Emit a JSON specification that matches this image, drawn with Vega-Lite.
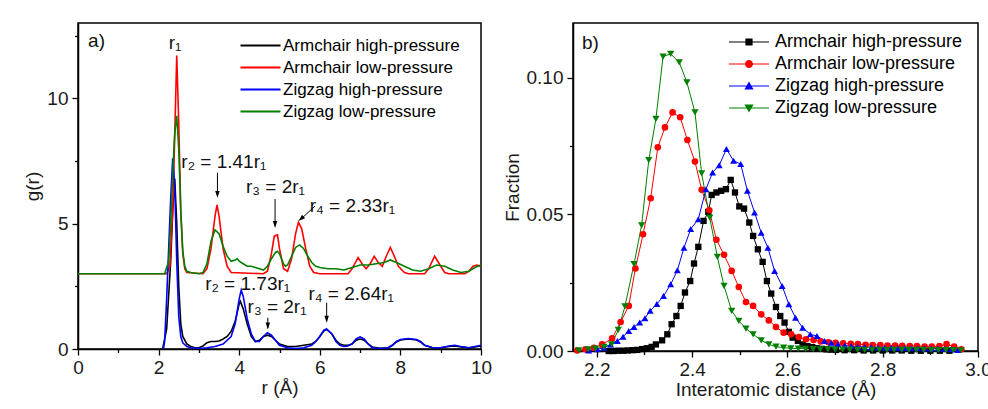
{
  "$schema": "https://vega.github.io/schema/vega-lite/v6.json",
  "usermeta": {"embedOptions": {"actions": false}},
  "background": "white",
  "padding": {"left": 23, "top": 22, "right": 0, "bottom": 0},
  "spacing": 92,
  "bounds": "flush",
  "config": {
    "font": "Liberation Sans",
    "view": {"stroke": "black", "strokeWidth": 1.5},
    "axis": {
      "domainColor": "black", "domainWidth": 1.5, "tickColor": "black", "tickWidth": 1.3,
      "labelFont": "Liberation Sans", "labelFontSize": 19, "labelColor": "#1a1a1a",
      "titleFont": "Liberation Sans", "titleFontSize": 19, "titleFontWeight": "normal", "titleColor": "#1a1a1a",
      "grid": false, "labelFlush": false, "labelOverlap": false, "labelPadding": 3
    },
    "axisX": {"titlePadding": 1},
    "axisY": {"titlePadding": 4, "labelPadding": 4},
    "legend": {"labelFont": "Liberation Sans", "labelColor": "black", "padding": 0, "titlePadding": 0, "labelLimit": 400}
  },
  "datasets": {
    "gr": [
      {"s":"Armchair high-pressure","r":2.1,"g":0},{"s":"Armchair high-pressure","r":2.2,"g":0.8},{"s":"Armchair high-pressure","r":2.3,"g":3.5},{"s":"Armchair high-pressure","r":2.35,"g":5.5},{"s":"Armchair high-pressure","r":2.4,"g":6.8},{"s":"Armchair high-pressure","r":2.45,"g":5.0},{"s":"Armchair high-pressure","r":2.5,"g":2.5},{"s":"Armchair high-pressure","r":2.55,"g":1.0},{"s":"Armchair high-pressure","r":2.6,"g":0.5},{"s":"Armchair high-pressure","r":2.7,"g":0.2},{"s":"Armchair high-pressure","r":2.8,"g":0.1},{"s":"Armchair high-pressure","r":2.9,"g":0.05},{"s":"Armchair high-pressure","r":3.0,"g":0.05},{"s":"Armchair high-pressure","r":3.1,"g":0.12},{"s":"Armchair high-pressure","r":3.2,"g":0.25},{"s":"Armchair high-pressure","r":3.3,"g":0.3},{"s":"Armchair high-pressure","r":3.4,"g":0.3},{"s":"Armchair high-pressure","r":3.5,"g":0.32},{"s":"Armchair high-pressure","r":3.6,"g":0.4},{"s":"Armchair high-pressure","r":3.7,"g":0.5},{"s":"Armchair high-pressure","r":3.8,"g":0.7},{"s":"Armchair high-pressure","r":3.9,"g":1.1},{"s":"Armchair high-pressure","r":4.0,"g":1.8},{"s":"Armchair high-pressure","r":4.03,"g":1.9},{"s":"Armchair high-pressure","r":4.1,"g":1.6},{"s":"Armchair high-pressure","r":4.2,"g":1.0},{"s":"Armchair high-pressure","r":4.3,"g":0.5},{"s":"Armchair high-pressure","r":4.4,"g":0.3},{"s":"Armchair high-pressure","r":4.5,"g":0.35},{"s":"Armchair high-pressure","r":4.6,"g":0.5},{"s":"Armchair high-pressure","r":4.7,"g":0.55},{"s":"Armchair high-pressure","r":4.8,"g":0.5},{"s":"Armchair high-pressure","r":4.9,"g":0.35},{"s":"Armchair high-pressure","r":5.0,"g":0.2},{"s":"Armchair high-pressure","r":5.2,"g":0.1},{"s":"Armchair high-pressure","r":5.4,"g":0.1},{"s":"Armchair high-pressure","r":5.6,"g":0.15},{"s":"Armchair high-pressure","r":5.8,"g":0.2},{"s":"Armchair high-pressure","r":5.9,"g":0.3},{"s":"Armchair high-pressure","r":6.0,"g":0.5},{"s":"Armchair high-pressure","r":6.1,"g":0.72},{"s":"Armchair high-pressure","r":6.17,"g":0.78},{"s":"Armchair high-pressure","r":6.3,"g":0.6},{"s":"Armchair high-pressure","r":6.4,"g":0.35},{"s":"Armchair high-pressure","r":6.5,"g":0.2},{"s":"Armchair high-pressure","r":6.6,"g":0.15},{"s":"Armchair high-pressure","r":6.7,"g":0.15},{"s":"Armchair high-pressure","r":6.8,"g":0.2},{"s":"Armchair high-pressure","r":6.9,"g":0.35},{"s":"Armchair high-pressure","r":7.0,"g":0.4},{"s":"Armchair high-pressure","r":7.1,"g":0.35},{"s":"Armchair high-pressure","r":7.2,"g":0.2},{"s":"Armchair high-pressure","r":7.3,"g":0.08},{"s":"Armchair high-pressure","r":7.5,"g":0.03},{"s":"Armchair high-pressure","r":7.7,"g":0.05},{"s":"Armchair high-pressure","r":7.8,"g":0.15},{"s":"Armchair high-pressure","r":7.9,"g":0.28},{"s":"Armchair high-pressure","r":8.0,"g":0.36},{"s":"Armchair high-pressure","r":8.2,"g":0.4},{"s":"Armchair high-pressure","r":8.4,"g":0.36},{"s":"Armchair high-pressure","r":8.5,"g":0.28},{"s":"Armchair high-pressure","r":8.6,"g":0.15},{"s":"Armchair high-pressure","r":8.8,"g":0.05},{"s":"Armchair high-pressure","r":9.0,"g":0.05},{"s":"Armchair high-pressure","r":9.2,"g":0.1},{"s":"Armchair high-pressure","r":9.35,"g":0.12},{"s":"Armchair high-pressure","r":9.5,"g":0.08},{"s":"Armchair high-pressure","r":9.7,"g":0.05},{"s":"Armchair high-pressure","r":9.85,"g":0.08},{"s":"Armchair high-pressure","r":10,"g":0.12},
      {"s":"Armchair low-pressure","r":0,"g":3.0},{"s":"Armchair low-pressure","r":2.2,"g":3.0},{"s":"Armchair low-pressure","r":2.28,"g":3.3},{"s":"Armchair low-pressure","r":2.35,"g":5.5},{"s":"Armchair low-pressure","r":2.4,"g":8.5},{"s":"Armchair low-pressure","r":2.45,"g":11.7},{"s":"Armchair low-pressure","r":2.5,"g":9.0},{"s":"Armchair low-pressure","r":2.55,"g":5.5},{"s":"Armchair low-pressure","r":2.6,"g":3.8},{"s":"Armchair low-pressure","r":2.65,"g":3.2},{"s":"Armchair low-pressure","r":2.7,"g":3.05},{"s":"Armchair low-pressure","r":3.1,"g":3.0},{"s":"Armchair low-pressure","r":3.2,"g":3.2},{"s":"Armchair low-pressure","r":3.3,"g":4.0},{"s":"Armchair low-pressure","r":3.4,"g":5.3},{"s":"Armchair low-pressure","r":3.45,"g":5.75},{"s":"Armchair low-pressure","r":3.5,"g":5.3},{"s":"Armchair low-pressure","r":3.6,"g":4.0},{"s":"Armchair low-pressure","r":3.7,"g":3.3},{"s":"Armchair low-pressure","r":3.8,"g":3.05},{"s":"Armchair low-pressure","r":4.6,"g":3.0},{"s":"Armchair low-pressure","r":4.7,"g":3.1},{"s":"Armchair low-pressure","r":4.8,"g":3.8},{"s":"Armchair low-pressure","r":4.87,"g":4.5},{"s":"Armchair low-pressure","r":4.95,"g":4.55},{"s":"Armchair low-pressure","r":5.0,"g":4.0},{"s":"Armchair low-pressure","r":5.1,"g":3.2},{"s":"Armchair low-pressure","r":5.2,"g":3.1},{"s":"Armchair low-pressure","r":5.3,"g":3.6},{"s":"Armchair low-pressure","r":5.4,"g":4.6},{"s":"Armchair low-pressure","r":5.47,"g":5.05},{"s":"Armchair low-pressure","r":5.55,"g":4.8},{"s":"Armchair low-pressure","r":5.65,"g":4.0},{"s":"Armchair low-pressure","r":5.75,"g":3.3},{"s":"Armchair low-pressure","r":5.85,"g":3.05},{"s":"Armchair low-pressure","r":6.0,"g":3.0},{"s":"Armchair low-pressure","r":6.7,"g":3.0},{"s":"Armchair low-pressure","r":6.8,"g":3.2},{"s":"Armchair low-pressure","r":6.95,"g":3.65},{"s":"Armchair low-pressure","r":7.05,"g":3.4},{"s":"Armchair low-pressure","r":7.15,"g":3.2},{"s":"Armchair low-pressure","r":7.25,"g":3.4},{"s":"Armchair low-pressure","r":7.35,"g":3.7},{"s":"Armchair low-pressure","r":7.45,"g":3.45},{"s":"Armchair low-pressure","r":7.55,"g":3.3},{"s":"Armchair low-pressure","r":7.65,"g":3.7},{"s":"Armchair low-pressure","r":7.75,"g":4.05},{"s":"Armchair low-pressure","r":7.85,"g":3.7},{"s":"Armchair low-pressure","r":7.95,"g":3.3},{"s":"Armchair low-pressure","r":8.1,"g":3.05},{"s":"Armchair low-pressure","r":8.2,"g":3.0},{"s":"Armchair low-pressure","r":8.6,"g":3.0},{"s":"Armchair low-pressure","r":8.7,"g":3.2},{"s":"Armchair low-pressure","r":8.85,"g":3.7},{"s":"Armchair low-pressure","r":9.0,"g":3.3},{"s":"Armchair low-pressure","r":9.1,"g":3.05},{"s":"Armchair low-pressure","r":9.2,"g":3.0},{"s":"Armchair low-pressure","r":9.6,"g":3.0},{"s":"Armchair low-pressure","r":9.7,"g":3.1},{"s":"Armchair low-pressure","r":9.8,"g":3.3},{"s":"Armchair low-pressure","r":9.9,"g":3.35},{"s":"Armchair low-pressure","r":10,"g":3.3},
      {"s":"Zigzag high-pressure","r":2.12,"g":0},{"s":"Zigzag high-pressure","r":2.15,"g":0.3},{"s":"Zigzag high-pressure","r":2.2,"g":2.0},{"s":"Zigzag high-pressure","r":2.25,"g":4.0},{"s":"Zigzag high-pressure","r":2.3,"g":6.0},{"s":"Zigzag high-pressure","r":2.35,"g":7.6},{"s":"Zigzag high-pressure","r":2.4,"g":6.5},{"s":"Zigzag high-pressure","r":2.45,"g":3.5},{"s":"Zigzag high-pressure","r":2.5,"g":1.3},{"s":"Zigzag high-pressure","r":2.55,"g":0.5},{"s":"Zigzag high-pressure","r":2.6,"g":0.25},{"s":"Zigzag high-pressure","r":2.7,"g":0.1},{"s":"Zigzag high-pressure","r":2.8,"g":0.05},{"s":"Zigzag high-pressure","r":3.0,"g":0.02},{"s":"Zigzag high-pressure","r":3.2,"g":0.05},{"s":"Zigzag high-pressure","r":3.4,"g":0.1},{"s":"Zigzag high-pressure","r":3.6,"g":0.2},{"s":"Zigzag high-pressure","r":3.8,"g":0.5},{"s":"Zigzag high-pressure","r":3.9,"g":1.0},{"s":"Zigzag high-pressure","r":4.0,"g":2.0},{"s":"Zigzag high-pressure","r":4.05,"g":2.35},{"s":"Zigzag high-pressure","r":4.1,"g":2.1},{"s":"Zigzag high-pressure","r":4.2,"g":1.2},{"s":"Zigzag high-pressure","r":4.3,"g":0.6},{"s":"Zigzag high-pressure","r":4.4,"g":0.3},{"s":"Zigzag high-pressure","r":4.5,"g":0.3},{"s":"Zigzag high-pressure","r":4.6,"g":0.5},{"s":"Zigzag high-pressure","r":4.7,"g":0.65},{"s":"Zigzag high-pressure","r":4.8,"g":0.55},{"s":"Zigzag high-pressure","r":4.9,"g":0.35},{"s":"Zigzag high-pressure","r":5.0,"g":0.15},{"s":"Zigzag high-pressure","r":5.2,"g":0.05},{"s":"Zigzag high-pressure","r":5.4,"g":0.02},{"s":"Zigzag high-pressure","r":5.6,"g":0.05},{"s":"Zigzag high-pressure","r":5.8,"g":0.15},{"s":"Zigzag high-pressure","r":5.9,"g":0.3},{"s":"Zigzag high-pressure","r":6.0,"g":0.5},{"s":"Zigzag high-pressure","r":6.1,"g":0.75},{"s":"Zigzag high-pressure","r":6.17,"g":0.8},{"s":"Zigzag high-pressure","r":6.3,"g":0.6},{"s":"Zigzag high-pressure","r":6.4,"g":0.3},{"s":"Zigzag high-pressure","r":6.5,"g":0.15},{"s":"Zigzag high-pressure","r":6.6,"g":0.1},{"s":"Zigzag high-pressure","r":6.7,"g":0.12},{"s":"Zigzag high-pressure","r":6.8,"g":0.2},{"s":"Zigzag high-pressure","r":6.9,"g":0.4},{"s":"Zigzag high-pressure","r":7.0,"g":0.48},{"s":"Zigzag high-pressure","r":7.1,"g":0.4},{"s":"Zigzag high-pressure","r":7.2,"g":0.2},{"s":"Zigzag high-pressure","r":7.3,"g":0.05},{"s":"Zigzag high-pressure","r":7.5,"g":0.02},{"s":"Zigzag high-pressure","r":7.7,"g":0.05},{"s":"Zigzag high-pressure","r":7.8,"g":0.15},{"s":"Zigzag high-pressure","r":7.9,"g":0.3},{"s":"Zigzag high-pressure","r":8.0,"g":0.38},{"s":"Zigzag high-pressure","r":8.2,"g":0.42},{"s":"Zigzag high-pressure","r":8.4,"g":0.38},{"s":"Zigzag high-pressure","r":8.5,"g":0.3},{"s":"Zigzag high-pressure","r":8.6,"g":0.15},{"s":"Zigzag high-pressure","r":8.8,"g":0.05},{"s":"Zigzag high-pressure","r":9.0,"g":0.05},{"s":"Zigzag high-pressure","r":9.2,"g":0.12},{"s":"Zigzag high-pressure","r":9.35,"g":0.15},{"s":"Zigzag high-pressure","r":9.5,"g":0.1},{"s":"Zigzag high-pressure","r":9.7,"g":0.05},{"s":"Zigzag high-pressure","r":9.85,"g":0.1},{"s":"Zigzag high-pressure","r":10,"g":0.15},
      {"s":"Zigzag low-pressure","r":0,"g":3.0},{"s":"Zigzag low-pressure","r":2.15,"g":3.0},{"s":"Zigzag low-pressure","r":2.25,"g":3.5},{"s":"Zigzag low-pressure","r":2.3,"g":5.0},{"s":"Zigzag low-pressure","r":2.35,"g":7.0},{"s":"Zigzag low-pressure","r":2.4,"g":8.6},{"s":"Zigzag low-pressure","r":2.45,"g":9.3},{"s":"Zigzag low-pressure","r":2.5,"g":8.0},{"s":"Zigzag low-pressure","r":2.55,"g":5.5},{"s":"Zigzag low-pressure","r":2.6,"g":3.9},{"s":"Zigzag low-pressure","r":2.65,"g":3.3},{"s":"Zigzag low-pressure","r":2.7,"g":3.1},{"s":"Zigzag low-pressure","r":2.8,"g":3.05},{"s":"Zigzag low-pressure","r":3.0,"g":3.0},{"s":"Zigzag low-pressure","r":3.1,"g":3.05},{"s":"Zigzag low-pressure","r":3.2,"g":3.4},{"s":"Zigzag low-pressure","r":3.3,"g":4.3},{"s":"Zigzag low-pressure","r":3.4,"g":4.75},{"s":"Zigzag low-pressure","r":3.5,"g":4.6},{"s":"Zigzag low-pressure","r":3.6,"g":4.1},{"s":"Zigzag low-pressure","r":3.7,"g":3.7},{"s":"Zigzag low-pressure","r":3.8,"g":3.5},{"s":"Zigzag low-pressure","r":3.9,"g":3.55},{"s":"Zigzag low-pressure","r":3.95,"g":3.6},{"s":"Zigzag low-pressure","r":4.0,"g":3.5},{"s":"Zigzag low-pressure","r":4.1,"g":3.4},{"s":"Zigzag low-pressure","r":4.2,"g":3.3},{"s":"Zigzag low-pressure","r":4.3,"g":3.3},{"s":"Zigzag low-pressure","r":4.4,"g":3.25},{"s":"Zigzag low-pressure","r":4.5,"g":3.2},{"s":"Zigzag low-pressure","r":4.6,"g":3.15},{"s":"Zigzag low-pressure","r":4.7,"g":3.3},{"s":"Zigzag low-pressure","r":4.8,"g":3.6},{"s":"Zigzag low-pressure","r":4.9,"g":3.85},{"s":"Zigzag low-pressure","r":4.95,"g":3.9},{"s":"Zigzag low-pressure","r":5.0,"g":3.8},{"s":"Zigzag low-pressure","r":5.1,"g":3.4},{"s":"Zigzag low-pressure","r":5.15,"g":3.3},{"s":"Zigzag low-pressure","r":5.2,"g":3.35},{"s":"Zigzag low-pressure","r":5.3,"g":3.7},{"s":"Zigzag low-pressure","r":5.4,"g":4.05},{"s":"Zigzag low-pressure","r":5.5,"g":4.15},{"s":"Zigzag low-pressure","r":5.6,"g":4.0},{"s":"Zigzag low-pressure","r":5.7,"g":3.7},{"s":"Zigzag low-pressure","r":5.8,"g":3.45},{"s":"Zigzag low-pressure","r":5.9,"g":3.3},{"s":"Zigzag low-pressure","r":6.0,"g":3.25},{"s":"Zigzag low-pressure","r":6.2,"g":3.2},{"s":"Zigzag low-pressure","r":6.4,"g":3.2},{"s":"Zigzag low-pressure","r":6.6,"g":3.15},{"s":"Zigzag low-pressure","r":6.8,"g":3.25},{"s":"Zigzag low-pressure","r":7.0,"g":3.35},{"s":"Zigzag low-pressure","r":7.2,"g":3.35},{"s":"Zigzag low-pressure","r":7.4,"g":3.4},{"s":"Zigzag low-pressure","r":7.6,"g":3.45},{"s":"Zigzag low-pressure","r":7.75,"g":3.55},{"s":"Zigzag low-pressure","r":7.9,"g":3.45},{"s":"Zigzag low-pressure","r":8.1,"g":3.3},{"s":"Zigzag low-pressure","r":8.3,"g":3.15},{"s":"Zigzag low-pressure","r":8.5,"g":3.1},{"s":"Zigzag low-pressure","r":8.7,"g":3.2},{"s":"Zigzag low-pressure","r":8.9,"g":3.35},{"s":"Zigzag low-pressure","r":9.1,"g":3.3},{"s":"Zigzag low-pressure","r":9.3,"g":3.15},{"s":"Zigzag low-pressure","r":9.5,"g":3.05},{"s":"Zigzag low-pressure","r":9.7,"g":3.1},{"s":"Zigzag low-pressure","r":9.85,"g":3.25},{"s":"Zigzag low-pressure","r":10,"g":3.35}
    ],
    "labelsA": [
      {"t":"r₁","x":2.41,"y":12.2},
      {"t":"r₂ = 1.41r₁","x":3.62,"y":7.45},
      {"t":"r₃ = 2r₁","x":4.9,"y":6.45},
      {"t":"r₄ = 2.33r₁","x":6.81,"y":5.72},
      {"t":"r₂ = 1.73r₁","x":4.21,"y":2.6},
      {"t":"r₃ = 2r₁","x":4.94,"y":1.68},
      {"t":"r₄ = 2.64r₁","x":6.78,"y":2.18}
    ],
    "arrowsA": [
      {"x":3.46,"y":7.03,"x2":3.46,"y2":6.1,"tx":3.46,"ty":6.03,"a":0},
      {"x":4.89,"y":5.98,"x2":4.89,"y2":4.9,"tx":4.89,"ty":4.83,"a":0},
      {"x":5.88,"y":5.7,"x2":5.52,"y2":5.16,"tx":5.47,"ty":5.1,"a":48},
      {"x":4.71,"y":1.25,"x2":4.71,"y2":0.85,"tx":4.71,"ty":0.78,"a":0},
      {"x":6.17,"y":1.85,"x2":6.17,"y2":1.12,"tx":6.17,"ty":1.05,"a":0}
    ],
    "frac": [
      {"s":"Armchair high-pressure","d":2.225,"f":0},{"s":"Armchair high-pressure","d":2.235,"f":0},{"s":"Armchair high-pressure","d":2.245,"f":0.0001},{"s":"Armchair high-pressure","d":2.255,"f":0.0001},{"s":"Armchair high-pressure","d":2.265,"f":0.0002},{"s":"Armchair high-pressure","d":2.275,"f":0.0003},{"s":"Armchair high-pressure","d":2.285,"f":0.0004},{"s":"Armchair high-pressure","d":2.295,"f":0.0007},{"s":"Armchair high-pressure","d":2.305,"f":0.001},{"s":"Armchair high-pressure","d":2.315,"f":0.0015},{"s":"Armchair high-pressure","d":2.324,"f":0.0024},{"s":"Armchair high-pressure","d":2.337,"f":0.0039},{"s":"Armchair high-pressure","d":2.348,"f":0.0061},{"s":"Armchair high-pressure","d":2.357,"f":0.0098},{"s":"Armchair high-pressure","d":2.367,"f":0.0128},{"s":"Armchair high-pressure","d":2.376,"f":0.0165},{"s":"Armchair high-pressure","d":2.385,"f":0.0214},{"s":"Armchair high-pressure","d":2.396,"f":0.0256},{"s":"Armchair high-pressure","d":2.404,"f":0.032},{"s":"Armchair high-pressure","d":2.413,"f":0.0381},{"s":"Armchair high-pressure","d":2.424,"f":0.0476},{"s":"Armchair high-pressure","d":2.434,"f":0.0509},{"s":"Armchair high-pressure","d":2.441,"f":0.0571},{"s":"Armchair high-pressure","d":2.451,"f":0.058},{"s":"Armchair high-pressure","d":2.461,"f":0.0586},{"s":"Armchair high-pressure","d":2.471,"f":0.0592},{"s":"Armchair high-pressure","d":2.481,"f":0.0626},{"s":"Armchair high-pressure","d":2.49,"f":0.058},{"s":"Armchair high-pressure","d":2.499,"f":0.0529},{"s":"Armchair high-pressure","d":2.509,"f":0.0521},{"s":"Armchair high-pressure","d":2.52,"f":0.047},{"s":"Armchair high-pressure","d":2.528,"f":0.0421},{"s":"Armchair high-pressure","d":2.538,"f":0.0372},{"s":"Armchair high-pressure","d":2.548,"f":0.0326},{"s":"Armchair high-pressure","d":2.557,"f":0.0256},{"s":"Armchair high-pressure","d":2.566,"f":0.021},{"s":"Armchair high-pressure","d":2.576,"f":0.0161},{"s":"Armchair high-pressure","d":2.585,"f":0.0128},{"s":"Armchair high-pressure","d":2.594,"f":0.0104},{"s":"Armchair high-pressure","d":2.603,"f":0.007},{"s":"Armchair high-pressure","d":2.611,"f":0.0049},{"s":"Armchair high-pressure","d":2.622,"f":0.0037},{"s":"Armchair high-pressure","d":2.632,"f":0.0024},{"s":"Armchair high-pressure","d":2.642,"f":0.0018},{"s":"Armchair high-pressure","d":2.652,"f":0.0014},{"s":"Armchair high-pressure","d":2.662,"f":0.001},{"s":"Armchair high-pressure","d":2.672,"f":0.0008},{"s":"Armchair high-pressure","d":2.682,"f":0.0006},{"s":"Armchair high-pressure","d":2.692,"f":0.0005},{"s":"Armchair high-pressure","d":2.702,"f":0.0004},{"s":"Armchair high-pressure","d":2.72,"f":0.0003},{"s":"Armchair high-pressure","d":2.74,"f":0.0003},{"s":"Armchair high-pressure","d":2.76,"f":0.0002},{"s":"Armchair high-pressure","d":2.78,"f":0.0002},{"s":"Armchair high-pressure","d":2.8,"f":0.0002},{"s":"Armchair high-pressure","d":2.82,"f":0.0002},{"s":"Armchair high-pressure","d":2.84,"f":0.0002},{"s":"Armchair high-pressure","d":2.86,"f":0.0001},{"s":"Armchair high-pressure","d":2.88,"f":0.0001},{"s":"Armchair high-pressure","d":2.9,"f":0.0001},{"s":"Armchair high-pressure","d":2.92,"f":0.0001},{"s":"Armchair high-pressure","d":2.94,"f":0.0001},
      {"s":"Armchair low-pressure","d":2.159,"f":0.0002},{"s":"Armchair low-pressure","d":2.176,"f":0.0006},{"s":"Armchair low-pressure","d":2.194,"f":0.0012},{"s":"Armchair low-pressure","d":2.211,"f":0.0024},{"s":"Armchair low-pressure","d":2.232,"f":0.0046},{"s":"Armchair low-pressure","d":2.25,"f":0.0106},{"s":"Armchair low-pressure","d":2.267,"f":0.0165},{"s":"Armchair low-pressure","d":2.281,"f":0.0302},{"s":"Armchair low-pressure","d":2.297,"f":0.0427},{"s":"Armchair low-pressure","d":2.313,"f":0.0559},{"s":"Armchair low-pressure","d":2.328,"f":0.0745},{"s":"Armchair low-pressure","d":2.343,"f":0.0818},{"s":"Armchair low-pressure","d":2.359,"f":0.0873},{"s":"Armchair low-pressure","d":2.375,"f":0.0855},{"s":"Armchair low-pressure","d":2.39,"f":0.0772},{"s":"Armchair low-pressure","d":2.406,"f":0.0693},{"s":"Armchair low-pressure","d":2.42,"f":0.059},{"s":"Armchair low-pressure","d":2.436,"f":0.0515},{"s":"Armchair low-pressure","d":2.451,"f":0.0407},{"s":"Armchair low-pressure","d":2.467,"f":0.0352},{"s":"Armchair low-pressure","d":2.483,"f":0.0293},{"s":"Armchair low-pressure","d":2.498,"f":0.0234},{"s":"Armchair low-pressure","d":2.513,"f":0.0179},{"s":"Armchair low-pressure","d":2.528,"f":0.0165},{"s":"Armchair low-pressure","d":2.545,"f":0.0134},{"s":"Armchair low-pressure","d":2.561,"f":0.0112},{"s":"Armchair low-pressure","d":2.576,"f":0.0088},{"s":"Armchair low-pressure","d":2.592,"f":0.0067},{"s":"Armchair low-pressure","d":2.608,"f":0.0061},{"s":"Armchair low-pressure","d":2.624,"f":0.0051},{"s":"Armchair low-pressure","d":2.639,"f":0.0043},{"s":"Armchair low-pressure","d":2.655,"f":0.004},{"s":"Armchair low-pressure","d":2.67,"f":0.0035},{"s":"Armchair low-pressure","d":2.686,"f":0.0032},{"s":"Armchair low-pressure","d":2.701,"f":0.003},{"s":"Armchair low-pressure","d":2.717,"f":0.0028},{"s":"Armchair low-pressure","d":2.733,"f":0.0026},{"s":"Armchair low-pressure","d":2.748,"f":0.0025},{"s":"Armchair low-pressure","d":2.764,"f":0.0023},{"s":"Armchair low-pressure","d":2.779,"f":0.0022},{"s":"Armchair low-pressure","d":2.795,"f":0.0022},{"s":"Armchair low-pressure","d":2.81,"f":0.002},{"s":"Armchair low-pressure","d":2.826,"f":0.002},{"s":"Armchair low-pressure","d":2.841,"f":0.0019},{"s":"Armchair low-pressure","d":2.857,"f":0.0018},{"s":"Armchair low-pressure","d":2.872,"f":0.0018},{"s":"Armchair low-pressure","d":2.888,"f":0.0016},{"s":"Armchair low-pressure","d":2.903,"f":0.0016},{"s":"Armchair low-pressure","d":2.919,"f":0.0018},{"s":"Armchair low-pressure","d":2.934,"f":0.0025},{"s":"Armchair low-pressure","d":2.95,"f":0.0016},{"s":"Armchair low-pressure","d":2.965,"f":0.0006},
      {"s":"Zigzag high-pressure","d":2.183,"f":0.0002},{"s":"Zigzag high-pressure","d":2.201,"f":0.0006},{"s":"Zigzag high-pressure","d":2.215,"f":0.0012},{"s":"Zigzag high-pressure","d":2.229,"f":0.0024},{"s":"Zigzag high-pressure","d":2.243,"f":0.0037},{"s":"Zigzag high-pressure","d":2.255,"f":0.0052},{"s":"Zigzag high-pressure","d":2.267,"f":0.0073},{"s":"Zigzag high-pressure","d":2.278,"f":0.0088},{"s":"Zigzag high-pressure","d":2.29,"f":0.0104},{"s":"Zigzag high-pressure","d":2.301,"f":0.012},{"s":"Zigzag high-pressure","d":2.312,"f":0.0147},{"s":"Zigzag high-pressure","d":2.326,"f":0.0172},{"s":"Zigzag high-pressure","d":2.34,"f":0.0201},{"s":"Zigzag high-pressure","d":2.355,"f":0.0244},{"s":"Zigzag high-pressure","d":2.369,"f":0.0295},{"s":"Zigzag high-pressure","d":2.383,"f":0.0378},{"s":"Zigzag high-pressure","d":2.397,"f":0.0446},{"s":"Zigzag high-pressure","d":2.413,"f":0.0482},{"s":"Zigzag high-pressure","d":2.429,"f":0.0592},{"s":"Zigzag high-pressure","d":2.443,"f":0.0653},{"s":"Zigzag high-pressure","d":2.457,"f":0.068},{"s":"Zigzag high-pressure","d":2.472,"f":0.0739},{"s":"Zigzag high-pressure","d":2.487,"f":0.0696},{"s":"Zigzag high-pressure","d":2.502,"f":0.0684},{"s":"Zigzag high-pressure","d":2.516,"f":0.0586},{"s":"Zigzag high-pressure","d":2.531,"f":0.0507},{"s":"Zigzag high-pressure","d":2.545,"f":0.0433},{"s":"Zigzag high-pressure","d":2.559,"f":0.0378},{"s":"Zigzag high-pressure","d":2.573,"f":0.0293},{"s":"Zigzag high-pressure","d":2.589,"f":0.0238},{"s":"Zigzag high-pressure","d":2.603,"f":0.0171},{"s":"Zigzag high-pressure","d":2.617,"f":0.0122},{"s":"Zigzag high-pressure","d":2.632,"f":0.0085},{"s":"Zigzag high-pressure","d":2.648,"f":0.0061},{"s":"Zigzag high-pressure","d":2.662,"f":0.0055},{"s":"Zigzag high-pressure","d":2.678,"f":0.0037},{"s":"Zigzag high-pressure","d":2.692,"f":0.003},{"s":"Zigzag high-pressure","d":2.706,"f":0.0025},{"s":"Zigzag high-pressure","d":2.72,"f":0.002},{"s":"Zigzag high-pressure","d":2.734,"f":0.0018},{"s":"Zigzag high-pressure","d":2.748,"f":0.0016},{"s":"Zigzag high-pressure","d":2.762,"f":0.0015},{"s":"Zigzag high-pressure","d":2.776,"f":0.0014},{"s":"Zigzag high-pressure","d":2.79,"f":0.0013},{"s":"Zigzag high-pressure","d":2.804,"f":0.0012},{"s":"Zigzag high-pressure","d":2.818,"f":0.0012},{"s":"Zigzag high-pressure","d":2.832,"f":0.0011},{"s":"Zigzag high-pressure","d":2.846,"f":0.001},{"s":"Zigzag high-pressure","d":2.86,"f":0.001},{"s":"Zigzag high-pressure","d":2.874,"f":0.001},{"s":"Zigzag high-pressure","d":2.888,"f":0.0009},{"s":"Zigzag high-pressure","d":2.902,"f":0.0009},{"s":"Zigzag high-pressure","d":2.916,"f":0.0009},{"s":"Zigzag high-pressure","d":2.93,"f":0.0008},{"s":"Zigzag high-pressure","d":2.944,"f":0.0006},{"s":"Zigzag high-pressure","d":2.958,"f":0.0004},
      {"s":"Zigzag low-pressure","d":2.162,"f":0.0002},{"s":"Zigzag low-pressure","d":2.182,"f":0.0006},{"s":"Zigzag low-pressure","d":2.197,"f":0.0009},{"s":"Zigzag low-pressure","d":2.215,"f":0.0015},{"s":"Zigzag low-pressure","d":2.231,"f":0.0024},{"s":"Zigzag low-pressure","d":2.245,"f":0.0077},{"s":"Zigzag low-pressure","d":2.259,"f":0.0163},{"s":"Zigzag low-pressure","d":2.278,"f":0.0318},{"s":"Zigzag low-pressure","d":2.294,"f":0.046},{"s":"Zigzag low-pressure","d":2.309,"f":0.0698},{"s":"Zigzag low-pressure","d":2.324,"f":0.0849},{"s":"Zigzag low-pressure","d":2.339,"f":0.1077},{"s":"Zigzag low-pressure","d":2.355,"f":0.1087},{"s":"Zigzag low-pressure","d":2.373,"f":0.1056},{"s":"Zigzag low-pressure","d":2.389,"f":0.0983},{"s":"Zigzag low-pressure","d":2.406,"f":0.0873},{"s":"Zigzag low-pressure","d":2.42,"f":0.065},{"s":"Zigzag low-pressure","d":2.437,"f":0.0488},{"s":"Zigzag low-pressure","d":2.453,"f":0.0344},{"s":"Zigzag low-pressure","d":2.467,"f":0.0238},{"s":"Zigzag low-pressure","d":2.483,"f":0.0147},{"s":"Zigzag low-pressure","d":2.498,"f":0.011},{"s":"Zigzag low-pressure","d":2.513,"f":0.0082},{"s":"Zigzag low-pressure","d":2.528,"f":0.0061},{"s":"Zigzag low-pressure","d":2.545,"f":0.0039},{"s":"Zigzag low-pressure","d":2.561,"f":0.0024},{"s":"Zigzag low-pressure","d":2.576,"f":0.0016},{"s":"Zigzag low-pressure","d":2.592,"f":0.0012},{"s":"Zigzag low-pressure","d":2.607,"f":0.001},{"s":"Zigzag low-pressure","d":2.623,"f":0.0009},{"s":"Zigzag low-pressure","d":2.638,"f":0.0008},{"s":"Zigzag low-pressure","d":2.654,"f":0.0007},{"s":"Zigzag low-pressure","d":2.669,"f":0.0006},{"s":"Zigzag low-pressure","d":2.685,"f":0.0006},{"s":"Zigzag low-pressure","d":2.7,"f":0.0005},{"s":"Zigzag low-pressure","d":2.716,"f":0.0005},{"s":"Zigzag low-pressure","d":2.731,"f":0.0005},{"s":"Zigzag low-pressure","d":2.747,"f":0.0004},{"s":"Zigzag low-pressure","d":2.762,"f":0.0004},{"s":"Zigzag low-pressure","d":2.778,"f":0.0004},{"s":"Zigzag low-pressure","d":2.793,"f":0.0004},{"s":"Zigzag low-pressure","d":2.809,"f":0.0004},{"s":"Zigzag low-pressure","d":2.824,"f":0.0004},{"s":"Zigzag low-pressure","d":2.84,"f":0.0004},{"s":"Zigzag low-pressure","d":2.855,"f":0.0004},{"s":"Zigzag low-pressure","d":2.871,"f":0.0004},{"s":"Zigzag low-pressure","d":2.886,"f":0.0004},{"s":"Zigzag low-pressure","d":2.902,"f":0.0003},{"s":"Zigzag low-pressure","d":2.917,"f":0.0003},{"s":"Zigzag low-pressure","d":2.933,"f":0.0003},{"s":"Zigzag low-pressure","d":2.948,"f":0.0003},{"s":"Zigzag low-pressure","d":2.964,"f":0.0002}
    ],
    "legendB": [
      {"s":"Armchair high-pressure"},{"s":"Armchair low-pressure"},{"s":"Zigzag high-pressure"},{"s":"Zigzag low-pressure"}
    ]
  },
  "hconcat": [
    {
      "width": 403,
      "height": 326,
      "layer": [
        {
          "data": {"name": "gr"},
          "mark": {"type": "line", "strokeWidth": 1.6, "clip": true},
          "encoding": {
            "x": {"field": "r", "type": "quantitative", "scale": {"domain": [0, 10], "nice": false, "zero": false},
              "axis": {"title": "r (Å)", "values": [0,1,2,3,4,5,6,7,8,9,10],
                "labelExpr": "datum.value % 2 === 0 ? datum.label : ''",
                "tickSize": {"condition": {"test": "datum.value % 2 !== 0", "value": 3.5}, "value": 6}}},
            "y": {"field": "g", "type": "quantitative", "scale": {"domain": [0, 13], "nice": false},
              "axis": {"title": "g(r)", "values": [0,2.5,5,7.5,10,12.5],
                "labelExpr": "datum.value % 5 === 0 ? datum.label : ''",
                "tickSize": {"condition": {"test": "datum.value % 5 !== 0", "value": 3.5}, "value": 6}}},
            "color": {"field": "s", "type": "nominal",
              "scale": {"domain": ["Armchair high-pressure","Armchair low-pressure","Zigzag high-pressure","Zigzag low-pressure"], "range": ["#000000","#ff0000","#0000ff","#008000"]},
              "legend": {"title": null, "orient": "none", "legendX": 174, "legendY": 14,
                "symbolType": "M -5 0 L 5 0", "symbolSize": 64, "symbolStrokeWidth": 2,
                "labelFontSize": 17, "labelOffset": 14, "rowPadding": 4}}
          }
        },
        {
          "data": {"name": "labelsA"},
          "mark": {"type": "text", "fontSize": 19, "color": "#111111", "align": "center", "baseline": "middle"},
          "encoding": {
            "x": {"field": "x", "type": "quantitative"},
            "y": {"field": "y", "type": "quantitative"},
            "text": {"field": "t"}
          }
        },
        {
          "data": {"values": [{"t": "a)", "x": 0.25, "y": 12.3}]},
          "mark": {"type": "text", "fontSize": 19, "color": "#111111", "align": "left", "baseline": "middle"},
          "encoding": {
            "x": {"field": "x", "type": "quantitative"},
            "y": {"field": "y", "type": "quantitative"},
            "text": {"field": "t"}
          }
        },
        {
          "data": {"name": "arrowsA"},
          "mark": {"type": "rule", "color": "black", "strokeWidth": 1},
          "encoding": {
            "x": {"field": "x", "type": "quantitative"},
            "y": {"field": "y", "type": "quantitative"},
            "x2": {"field": "x2"},
            "y2": {"field": "y2"}
          }
        },
        {
          "data": {"name": "arrowsA"},
          "mark": {"type": "point", "shape": "M 0 0 L -0.75 -2.3 L 0.75 -2.3 Z", "size": 36, "filled": true, "color": "black", "opacity": 1, "strokeWidth": 0},
          "encoding": {
            "x": {"field": "tx", "type": "quantitative"},
            "y": {"field": "ty", "type": "quantitative"},
            "angle": {"field": "a", "type": "quantitative", "scale": null}
          }
        }
      ]
    },
    {
      "width": 405,
      "height": 328,
      "resolve": {"scale": {"color": "independent", "shape": "independent", "size": "independent"}},
      "layer": [
        {
          "data": {"name": "frac"},
          "mark": {"type": "line", "strokeWidth": 1},
          "encoding": {
            "x": {"field": "d", "type": "quantitative", "scale": {"domain": [2.15, 3.0], "nice": false, "zero": false},
              "axis": {"title": "Interatomic distance (Å)", "values": [2.2,2.3,2.4,2.5,2.6,2.7,2.8,2.9,3.0], "format": ".1f",
                "labelExpr": "round(datum.value*10) % 2 === 0 ? datum.label : ''",
                "tickSize": {"condition": {"test": "round(datum.value*10) % 2 !== 0", "value": 3.5}, "value": 6}}},
            "y": {"field": "f", "type": "quantitative", "scale": {"domain": [0, 0.12], "nice": false},
              "axis": {"title": "Fraction", "values": [0,0.025,0.05,0.075,0.1], "format": ".2f",
                "labelExpr": "round(datum.value*1000) % 50 === 0 ? datum.label : ''",
                "tickSize": {"condition": {"test": "round(datum.value*1000) % 50 !== 0", "value": 3.5}, "value": 6}}},
            "color": {"field": "s", "type": "nominal",
              "scale": {"domain": ["Armchair high-pressure","Armchair low-pressure","Zigzag high-pressure","Zigzag low-pressure"], "range": ["#000000","#ff0000","#0000ff","#008000"]},
              "legend": null}
          }
        },
        {
          "data": {"name": "frac"},
          "mark": {"type": "point", "filled": true, "opacity": 1, "strokeWidth": 0},
          "encoding": {
            "x": {"field": "d", "type": "quantitative"},
            "y": {"field": "f", "type": "quantitative"},
            "color": {"field": "s", "type": "nominal",
              "scale": {"domain": ["Armchair high-pressure","Armchair low-pressure","Zigzag high-pressure","Zigzag low-pressure"], "range": ["#000000","#ff0000","#0000ff","#008000"]},
              "legend": null},
            "shape": {"field": "s", "type": "nominal",
              "scale": {"domain": ["Armchair high-pressure","Armchair low-pressure","Zigzag high-pressure","Zigzag low-pressure"], "range": ["square","circle","triangle-up","triangle-down"]},
              "legend": null},
            "size": {"field": "s", "type": "nominal",
              "scale": {"domain": ["Armchair high-pressure","Armchair low-pressure","Zigzag high-pressure","Zigzag low-pressure"], "range": [40, 52, 70, 70]},
              "legend": null}
          }
        },
        {
          "data": {"name": "legendB"},
          "transform": [{"filter": "isValid(datum.d)"}],
          "mark": {"type": "point", "filled": true, "opacity": 1, "strokeWidth": 0},
          "encoding": {
            "x": {"field": "d", "type": "quantitative"},
            "y": {"field": "f", "type": "quantitative"},
            "color": {"field": "s", "type": "nominal",
              "scale": {"domain": ["Armchair high-pressure","Armchair low-pressure","Zigzag high-pressure","Zigzag low-pressure"], "range": ["#000000","#ff0000","#0000ff","#008000"]},
              "legend": {"title": null, "orient": "none", "legendX": 167, "legendY": 10, "symbolSize": 64, "symbolStrokeWidth": 0,
                "labelFontSize": 18, "labelOffset": 17, "rowPadding": 4}},
            "shape": {"field": "s", "type": "nominal",
              "scale": {"domain": ["Armchair high-pressure","Armchair low-pressure","Zigzag high-pressure","Zigzag low-pressure"],
                "range": [
                  "M -5 -0.13 H 5 V 0.13 H -5 Z M -0.9 -0.9 H 0.9 V 0.9 H -0.9 Z",
                  "M -5 -0.13 H 5 V 0.13 H -5 Z M -1 0 A 1 1 0 1 1 1 0 A 1 1 0 1 1 -1 0 Z",
                  "M -5 -0.13 H 5 V 0.13 H -5 Z M 0 -1.1 L 1.15 0.9 L -1.15 0.9 Z",
                  "M -5 -0.13 H 5 V 0.13 H -5 Z M 0 1.1 L -1.15 -0.9 L 1.15 -0.9 Z"
                ]},
              "legend": {"title": null, "orient": "none", "legendX": 167, "legendY": 10, "symbolSize": 64, "symbolStrokeWidth": 0,
                "labelFontSize": 18, "labelOffset": 17, "rowPadding": 4}}
          }
        },
        {
          "data": {"values": [{"t": "b)", "x": 2.169, "y": 0.1126}]},
          "mark": {"type": "text", "fontSize": 19, "color": "#111111", "align": "left", "baseline": "middle"},
          "encoding": {
            "x": {"field": "x", "type": "quantitative"},
            "y": {"field": "y", "type": "quantitative"},
            "text": {"field": "t"}
          }
        }
      ]
    }
  ]
}
